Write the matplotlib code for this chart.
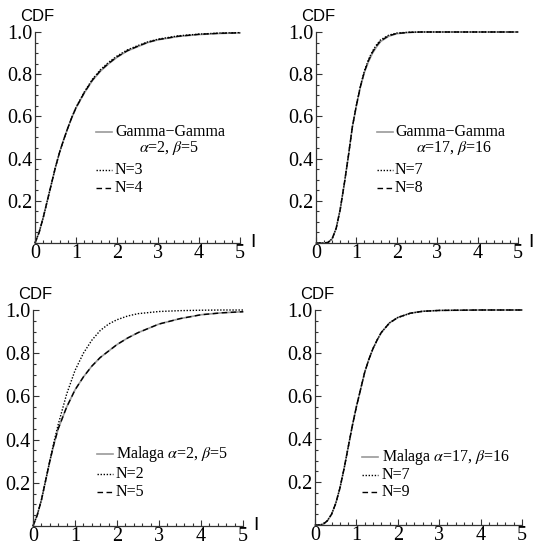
import matplotlib
matplotlib.use("Agg")
import matplotlib.pyplot as plt
from matplotlib.ticker import MultipleLocator, FixedLocator

plt.rcParams['font.family'] = ['Liberation Serif', 'DejaVu Serif']
plt.rcParams['mathtext.fontset'] = 'stix'

# --- data (CDF vs I) ---
# panel 1: Gamma-Gamma alpha=2, beta=5
I_gg1 = [0, 0.1, 0.2, 0.3, 0.4, 0.5, 0.6, 0.7, 0.8, 0.9, 1.0, 1.2, 1.4, 1.6, 1.8,
         2.0, 2.25, 2.5, 2.75, 3.0, 3.5, 4.0, 4.5, 5.0]
gg1_exact = [0, 0.05, 0.12, 0.20, 0.28, 0.36, 0.43, 0.49, 0.545, 0.595, 0.64, 0.71,
             0.77, 0.815, 0.85, 0.88, 0.91, 0.93, 0.95, 0.963, 0.979, 0.988, 0.993, 0.996]
gg1_n3 = [0, 0.05, 0.12, 0.20, 0.28, 0.36, 0.43, 0.49, 0.545, 0.597, 0.643, 0.715,
          0.776, 0.822, 0.857, 0.886, 0.915, 0.935, 0.953, 0.966, 0.982, 0.99, 0.995, 0.997]
gg1_n4 = [0, 0.05, 0.12, 0.20, 0.28, 0.36, 0.43, 0.49, 0.545, 0.596, 0.641, 0.712,
          0.772, 0.818, 0.852, 0.882, 0.911, 0.932, 0.951, 0.964, 0.98, 0.989, 0.994, 0.996]

# panel 2: Gamma-Gamma alpha=17, beta=16
I_gg2 = [0, 0.2, 0.3, 0.4, 0.5, 0.6, 0.7, 0.8, 0.9, 1.0, 1.1, 1.2, 1.3, 1.4, 1.5,
         1.6, 1.8, 2.0, 2.3, 2.6, 3.0, 4.0, 5.0]
gg2_exact = [0, 0, 0.003, 0.02, 0.07, 0.16, 0.28, 0.41, 0.55, 0.65, 0.74, 0.81, 0.86,
             0.90, 0.93, 0.955, 0.98, 0.992, 0.998, 1, 1, 1, 1]
gg2_n7 = [0, 0, 0.003, 0.02, 0.07, 0.16, 0.28, 0.41, 0.55, 0.655, 0.745, 0.817, 0.87,
          0.91, 0.94, 0.963, 0.985, 0.995, 0.999, 1, 1, 1, 1]
gg2_n8 = [0, 0, 0.003, 0.02, 0.07, 0.16, 0.28, 0.41, 0.55, 0.652, 0.742, 0.813, 0.865,
          0.905, 0.935, 0.958, 0.982, 0.993, 0.998, 1, 1, 1, 1]

# panel 3: Malaga alpha=2, beta=5
I_m1 = [0, 0.1, 0.2, 0.3, 0.4, 0.5, 0.6, 0.8, 1.0, 1.2, 1.4, 1.6, 1.8, 2.0, 2.25,
        2.5, 3.0, 3.5, 4.0, 4.5, 5.0]
m1_exact = [0, 0.05, 0.12, 0.21, 0.30, 0.38, 0.45, 0.55, 0.63, 0.69, 0.74, 0.78, 0.81,
            0.84, 0.87, 0.895, 0.935, 0.96, 0.978, 0.987, 0.992]
m1_n2 = [0, 0.05, 0.12, 0.21, 0.30, 0.39, 0.47, 0.61, 0.72, 0.80, 0.86, 0.905, 0.935,
         0.955, 0.972, 0.983, 0.993, 0.997, 0.999, 1.0, 1.0]
m1_n5 = [0, 0.05, 0.12, 0.21, 0.30, 0.38, 0.45, 0.55, 0.63, 0.69, 0.74, 0.78, 0.81,
         0.84, 0.87, 0.895, 0.935, 0.96, 0.978, 0.987, 0.992]

# panel 4: Malaga alpha=17, beta=16
I_m2 = [0, 0.1, 0.2, 0.3, 0.4, 0.5, 0.6, 0.7, 0.8, 0.9, 1.0, 1.1, 1.2, 1.3, 1.4,
        1.5, 1.6, 1.8, 2.0, 2.3, 2.6, 3.0, 4.0, 5.0]
m2_exact = [0, 0, 0.004, 0.02, 0.05, 0.10, 0.17, 0.26, 0.36, 0.46, 0.55, 0.63, 0.71,
            0.77, 0.82, 0.86, 0.895, 0.94, 0.965, 0.985, 0.994, 0.998, 1, 1]
m2_n7 = m2_exact
m2_n9 = m2_exact

panels = [
    dict(I=I_gg1, exact=gg1_exact, dot=gg1_n3, dash=gg1_n4,
         rect=(35, 32, 240, 243), xlabel=True,
         labels=["Gamma\u2212Gamma", r"$\alpha$=2, $\beta$=5", "N=3", "N=4"],
         leg_x=(0.298, 0.376, 0.39, 0.655), leg_y=(0.525, 0.45, 0.345, 0.26)),
    dict(I=I_gg2, exact=gg2_exact, dot=gg2_n7, dash=gg2_n8,
         rect=(316, 32, 518, 243), xlabel=True,
         labels=["Gamma\u2212Gamma", r"$\alpha$=17, $\beta$=16", "N=7", "N=8"],
         leg_x=(0.302, 0.381, 0.391, 0.683), leg_y=(0.525, 0.45, 0.345, 0.26)),
    dict(I=I_m1, exact=m1_exact, dot=m1_n2, dash=m1_n5,
         rect=(33, 310, 243, 526), xlabel=True,
         labels=[r"Malaga $\alpha$=2, $\beta$=5", None, "N=2", "N=5"],
         leg_x=(0.305, 0.381, 0.395, 0), leg_y=(0.332, None, 0.24, 0.158)),
    dict(I=I_m2, exact=m2_exact, dot=m2_n7, dash=m2_n9,
         rect=(315, 310, 522, 525), xlabel=False,
         labels=[r"Malaga $\alpha$=17, $\beta$=16", None, "N=7", "N=9"],
         leg_x=(0.227, 0.304, 0.324, 0), leg_y=(0.316, None, 0.233, 0.153)),
]

W, H = 534, 548
fig = plt.figure(figsize=(W / 100, H / 100), dpi=100)

axis_col = '#333333'
gray = '#9a9a9a'
dot_style = (0, (1, 1.2))
dash_style = (0, (4, 2.5))

for p in panels:
    x0, y1, x5, y0 = p['rect']
    ax = fig.add_axes([x0 / W, 1 - y0 / H, (x5 - x0) / W, (y0 - y1) / H])
    ax.set_facecolor('none')
    ax.plot(p['I'], p['exact'], color=gray, lw=1.2, clip_on=False)
    ax.plot(p['I'], p['dot'], color='black', lw=1.0, ls=dot_style, clip_on=False)
    ax.plot(p['I'], p['dash'], color='black', lw=1.0, ls=dash_style, clip_on=False)
    ax.set_xlim(0, 5)
    ax.set_ylim(0, 1)

    for s in ('top', 'right'):
        ax.spines[s].set_visible(False)
    for s in ('left', 'bottom'):
        ax.spines[s].set_color(axis_col)
        ax.spines[s].set_linewidth(0.9)

    ax.xaxis.set_major_locator(MultipleLocator(1))
    ax.xaxis.set_minor_locator(MultipleLocator(0.2))
    ax.yaxis.set_major_locator(FixedLocator([0.2, 0.4, 0.6, 0.8, 1.0]))
    ax.yaxis.set_minor_locator(MultipleLocator(0.05))
    ax.set_yticklabels(['0.2', '0.4', '0.6', '0.8', '1.0'])
    ax.tick_params(which='both', direction='in', color=axis_col, width=0.8,
                   labelsize=14.5, top=False, right=False)
    ax.tick_params(which='major', length=4)
    ax.tick_params(which='minor', length=2)
    ax.tick_params(axis='x', pad=1)
    ax.tick_params(axis='y', pad=2)

    ax.annotate('CDF', xy=(0, 1), xycoords='axes fraction', xytext=(2, 8),
                textcoords='offset pixels', ha='center', va='bottom',
                fontsize=12, family='Liberation Sans')
    if p['xlabel']:
        ax.annotate('I', xy=(1, 0), xycoords='axes fraction', xytext=(13, 0),
                    textcoords='offset pixels', ha='center', va='center',
                    fontsize=14, family='Liberation Sans')

    # legend drawn Mathematica style
    lx0, lx1, tx, cx = p['leg_x']
    styles = ['-', None, dot_style, dash_style]
    colors = [gray, None, 'black', 'black']
    for lab, ly, ls, col in zip(p['labels'], p['leg_y'], styles, colors):
        if lab is None:
            continue
        if ls is None:
            ax.text(cx, ly, lab, transform=ax.transAxes, ha='center', va='center',
                    fontsize=11.5)
            continue
        ax.plot([lx0, lx1], [ly, ly], transform=ax.transAxes, color=col,
                lw=1.2 if ls == '-' else 1.0, ls=ls, clip_on=False)
        ax.text(tx, ly, lab, transform=ax.transAxes, ha='left', va='center',
                fontsize=11.5)

fig.savefig('out.png', dpi=100)
